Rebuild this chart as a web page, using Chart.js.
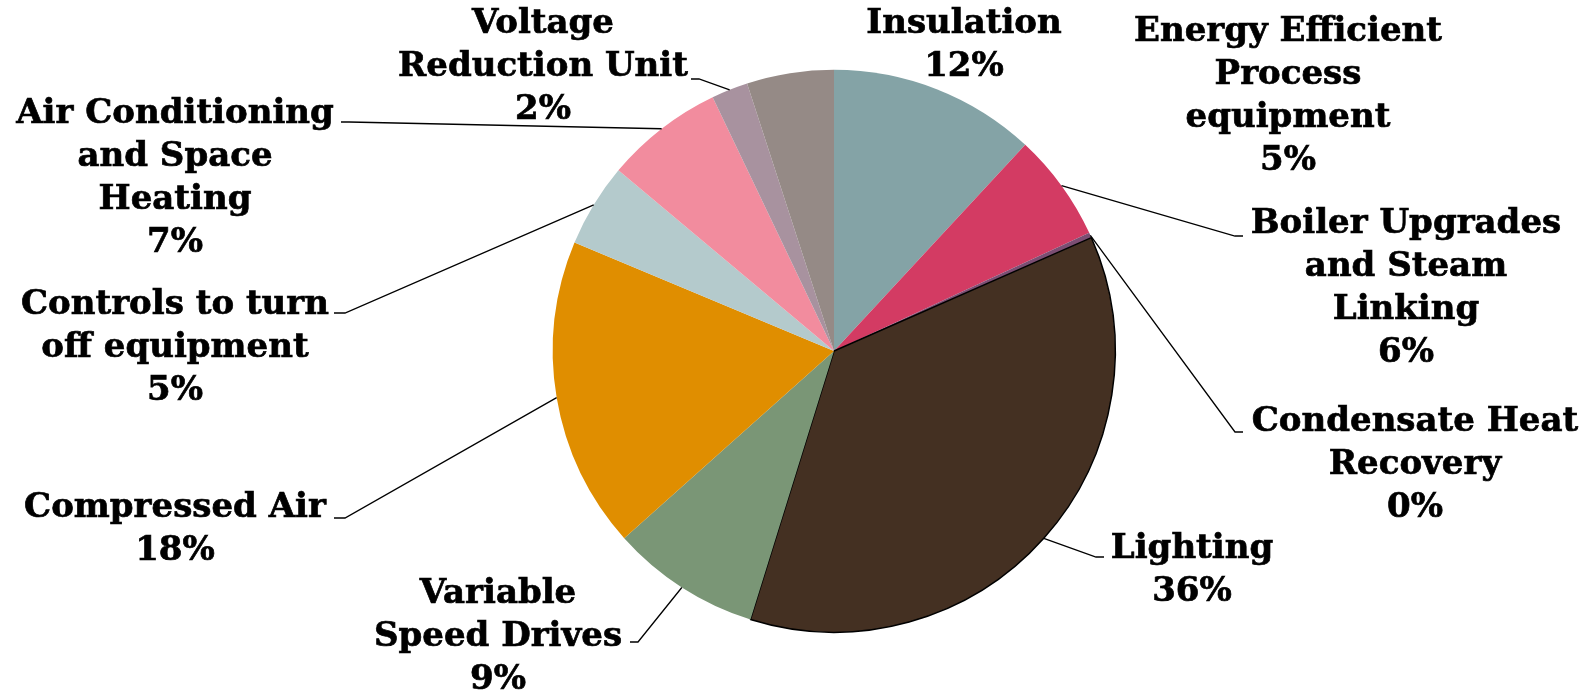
<!DOCTYPE html>
<html>
<head>
<meta charset="utf-8">
<script src="https://cdn.jsdelivr.net/npm/chart.js@4.4.1/dist/chart.umd.min.js"></script>
<style>
  html, body { margin: 0; padding: 0; background: #fff; }
  #wrap { width: 1594px; height: 695px; position: relative; }
</style>
</head>
<body>
<div id="wrap"><canvas id="pieChart"></canvas></div>
<script>
// slices in clockwise order from 12 o'clock
const categories = [
  "Insulation",
  "Boiler Upgrades\nand Steam\nLinking",
  "Condensate Heat\nRecovery",
  "Lighting",
  "Variable\nSpeed Drives",
  "Compressed Air",
  "Controls to turn\noff equipment",
  "Air Conditioning\nand Space\nHeating",
  "Voltage\nReduction Unit",
  "Energy Efficient\nProcess\nequipment"
];
const values = [11.9, 6.2, 0.3, 36.4, 8.6, 17.9, 4.8, 6.8, 2.1, 5.0];

const colors = ['#84a3a6', '#d33b63', '#7b4e73', '#443022', '#7a9676',
                '#e08e00', '#b4cacc', '#f28c9e', '#a8929f', '#958a86'];

// label layout: centre x and first line y of each label block
const labelPos = [
  [964, 24], [1406, 224], [1415, 422], [1192, 549], [498, 594],
  [175, 508], [175, 305], [175, 114], [543, 24], [1288, 32]
];
// where the leader line meets the text: [x, y, elbow offset]
const leaderEnds = [
  null, [1243, 236, -8], [1243, 432, -8], [1104, 557, -8], [630, 642, 8],
  [334, 518, 11], [334, 313, 11], [341, 122, 8], [691, 79, 8], null
];
const lineGap = 43;

const pieLabels = {
  id: 'pieLabels',
  afterDatasetsDraw(chart) {
    const ctx = chart.ctx;
    const meta = chart.getDatasetMeta(0);
    const total = values.reduce((a, b) => a + b, 0);
    ctx.save();
    meta.data.forEach((arc, i) => {
      const p = arc.getProps(['x', 'y', 'startAngle', 'endAngle', 'outerRadius'], true);
      const mid = (p.startAngle + p.endAngle) / 2;
      const ax = p.x + Math.cos(mid) * p.outerRadius;
      const ay = p.y + Math.sin(mid) * p.outerRadius;

      const lead = leaderEnds[i];
      if (lead) {
        ctx.beginPath();
        ctx.strokeStyle = '#000';
        ctx.lineWidth = 1.3;
        ctx.moveTo(ax, ay);
        ctx.lineTo(lead[0] + lead[2], lead[1]);
        ctx.lineTo(lead[0], lead[1]);
        ctx.stroke();
      }

      const lines = categories[i].split('\n');
      lines.push(Math.round(values[i] / total * 100) + '%');
      ctx.fillStyle = '#000';
      ctx.strokeStyle = '#000';
      ctx.lineWidth = 0.7;
      ctx.font = 'bold 34px "DejaVu Serif"';
      ctx.textAlign = 'center';
      ctx.textBaseline = 'middle';
      lines.forEach((t, k) => {
        const ty = labelPos[i][1] + k * lineGap;
        ctx.fillText(t, labelPos[i][0], ty);
        ctx.strokeText(t, labelPos[i][0], ty);
      });
    });
    ctx.restore();
  }
};

new Chart(document.getElementById('pieChart'), {
  type: 'pie',
  data: {
    labels: categories,
    datasets: [{
      data: values,
      backgroundColor: colors,
      borderColor: '#000',
      borderWidth: [0, 0, 0, 1.5, 0, 0, 0, 0, 0, 0],
      hoverOffset: 0
    }]
  },
  options: {
    responsive: true,
    maintainAspectRatio: false,
    animation: false,
    events: [],
    layout: { padding: { left: 552, right: 478, top: 69, bottom: 62 } },
    plugins: {
      legend: { display: false },
      tooltip: { enabled: false }
    }
  },
  plugins: [pieLabels]
});
</script>
</body>
</html>
